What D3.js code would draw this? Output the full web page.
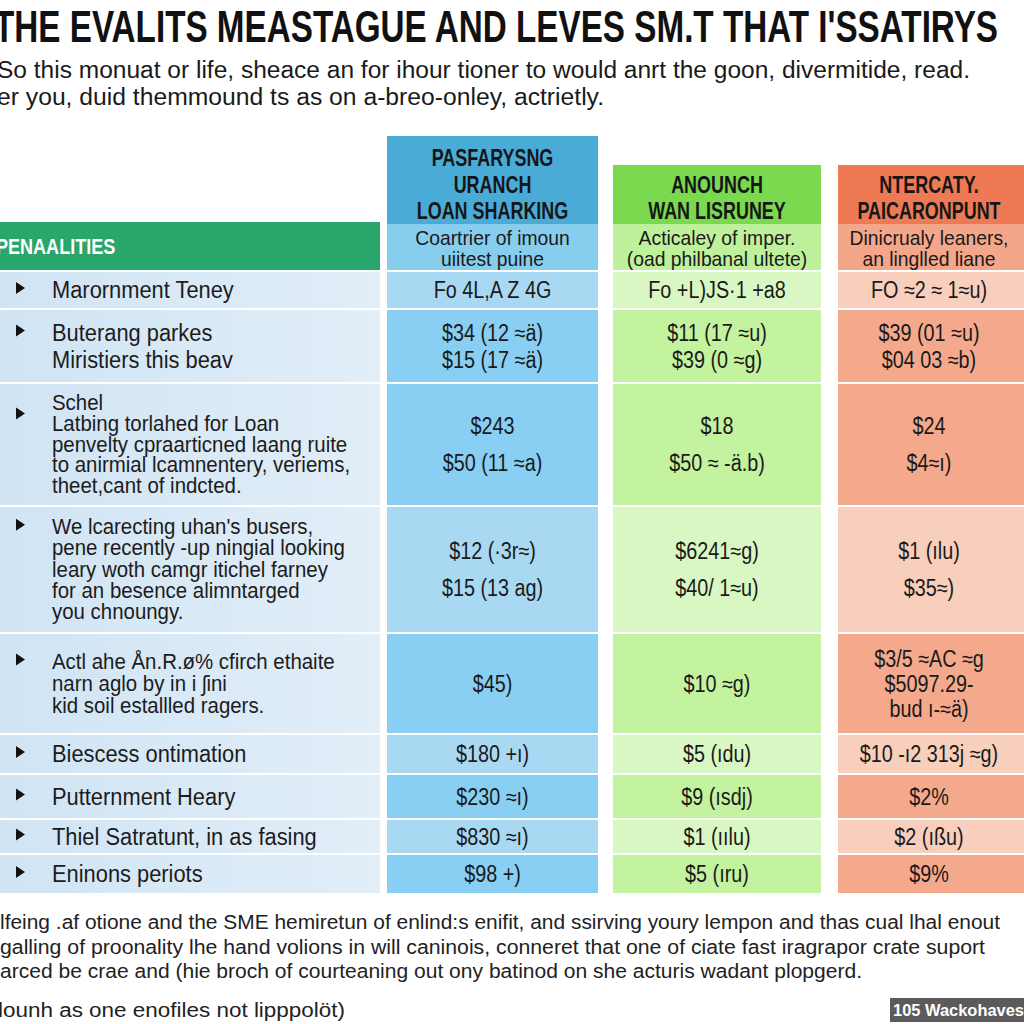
<!DOCTYPE html>
<html><head><meta charset="utf-8">
<script src="https://cdn.jsdelivr.net/npm/d3@7"></script>
<style>body{margin:0;background:#fff}svg{display:block}</style></head>
<body>
<script>
// ---------------- DATA ----------------
const title = "THE EVALITS MEASTAGUE AND LEVES SM.T THAT I'SSATIRYS";
const subtitleLines = [
  "So this monuat or life, sheace an for ihour tioner to would anrt the goon, divermitide, read.",
  "er you, duid themmound ts as on a-breo-onley, actrietly."
];
const sectionLabel = "PENAALITIES";
const columnHeaders = [
  ["PASFARYSNG", "URANCH", "LOAN SHARKING"],
  ["ANOUNCH", "WAN LISRUNEY"],
  ["NTERCATY.", "PAICARONPUNT"]
];
const columnNotes = [
  ["Coartrier of imoun", "uiitest puine"],
  ["Acticaley of imper.", "(oad philbanal ultete)"],
  ["Dinicrualy leaners,", "an linglled liane"]
];
const rowLabels = [
  ["Marornment Teney"],
  ["Buterang parkes", "Miristiers this beav"],
  ["Schel", "Latbing torlahed for Loan", "penvelty cpraarticned laang ruite", "to anirmial lcamnentery, veriems,", "theet,cant of indcted."],
  ["We lcarecting uhan's busers,", "pene recently -up ningial looking", "leary woth camgr itichel farney", "for an besence alimntarged", "you chnoungy."],
  ["Actl ahe Ån.R.ø% cfirch ethaite", "narn aglo by in i ʃini", "kid soil estallled ragers."],
  ["Biescess ontimation"],
  ["Putternment Heary"],
  ["Thiel Satratunt, in as fasing"],
  ["Eninons periots"]
];
const blueValues = [
  ["Fo 4L,A Z 4G"],
  ["$34 (12 ≈ä)", "$15 (17 ≈ä)"],
  ["$243", "$50 (11 ≈a)"],
  ["$12 (·3r≈)", "$15 (13 ag)"],
  ["$45)"],
  ["$180 +ı)"],
  ["$230 ≈ı)"],
  ["$830 ≈ı)"],
  ["$98 +)"]
];
const greenValues = [
  ["Fo +L)JS·1 +a8"],
  ["$11 (17 ≈u)", "$39 (0 ≈g)"],
  ["$18", "$50 ≈ -ä.b)"],
  ["$6241≈g)", "$40/ 1≈u)"],
  ["$10 ≈g)"],
  ["$5 (ıdu)"],
  ["$9 (ısdj)"],
  ["$1 (ıılu)"],
  ["$5 (ıru)"]
];
const orangeValues = [
  ["FO ≈2 ≈ 1≈u)"],
  ["$39 (01 ≈u)", "$04 03 ≈b)"],
  ["$24", "$4≈ı)"],
  ["$1 (ılu)", "$35≈)"],
  ["$3/5 ≈AC ≈g", "$5097.29-", "bud ı-≈ä)"],
  ["$10 -ı2 313j ≈g)"],
  ["$2%"],
  ["$2 (ıßu)"],
  ["$9%"]
];
const footerLines = [
  "lfeing .af otione and the SME hemiretun of enlind:s enifit, and ssirving youry lempon and thas cual lhal enout",
  "galling of proonality lhe hand volions in will caninois, conneret that one of ciate fast iragrapor crate suport",
  "arced be crae and (hie broch of courteaning out ony batinod on she acturis wadant plopgerd."
];
const footnote = "lounh as one enofiles not lipppolöt)";
const badge = "105 Wackohaves";

// ---------------- LAYOUT / STYLE ----------------
const W = 1024, H = 1024;
const FONT = "'Liberation Sans', Arial, 'Roboto', sans-serif";
const rowHeights = [36, 72, 121, 125, 99, 38, 43, 33, 38];
const rowGap = 2, tableTop = 272;
const colSpans = [[387, 598], [613, 821], [838, 1030]];
const colTops = [136, 165, 165];
const headBottom = 224, subBottom = 270;
const leftSpan = [0, 380];
const palettes = [
  {head: "#4aacd6", sub: "#86cdee", light: "#a9d9f2", bright: "#88cff3"},
  {head: "#7ad94e", sub: "#bff09b", light: "#d8f7c2", bright: "#c4f3a0"},
  {head: "#ee7a55", sub: "#f4a68a", light: "#f8cebd", bright: "#f4a98c"}
];
const shade = [0, 1, 1, 0, 1, 0, 1, 0, 1];
const valueCols = [blueValues, greenValues, orangeValues];

const svg = d3.select("body").append("svg").attr("width", W).attr("height", H)
  .style("font-family", FONT);

const defs = svg.append("defs");
const lg = defs.append("linearGradient").attr("id", "leftGrad").attr("x1", "0").attr("x2", "1");
lg.append("stop").attr("offset", "0").attr("stop-color", "#d0e4f4");
lg.append("stop").attr("offset", "1").attr("stop-color", "#e2eef8");

function fit(sel, squeeze, maxW) {
  sel.each(function () {
    const n = this.getComputedTextLength();
    let w = n * squeeze;
    if (maxW && w > maxW) w = maxW;
    if (Math.abs(w - n) > 0.5) d3.select(this).attr("textLength", w).attr("lengthAdjust", "spacingAndGlyphs");
  });
}
function setWidth(sel, w) { sel.attr("textLength", w).attr("lengthAdjust", "spacingAndGlyphs"); }

// row positions
const rowTops = [];
let acc = tableTop;
rowHeights.forEach((h) => { rowTops.push(acc); acc += h + rowGap; });
const rowIdx = d3.range(rowLabels.length);

// ---------------- TITLE ----------------
svg.append("text").attr("x", -6).attr("y", 42).attr("font-size", 45).attr("font-weight", 900)
  .attr("fill", "#111").text(title).call(setWidth, 1004);
const subW = [973, 607];
svg.selectAll("text.sub").data(subtitleLines).join("text").attr("class", "sub")
  .attr("x", -3).attr("y", (d, i) => 78 + i * 27).attr("font-size", 23).attr("fill", "#1a1a1a")
  .text(d => d).each(function (d, i) { setWidth(d3.select(this), subW[i]); });

// ---------------- LEFT COLUMN ----------------
svg.append("rect").attr("x", leftSpan[0]).attr("y", 222).attr("width", leftSpan[1] - leftSpan[0]).attr("height", 48)
  .attr("fill", "#28a66b");
svg.append("text").attr("x", -4).attr("y", 246).attr("dominant-baseline", "central")
  .attr("font-size", 22).attr("font-weight", 700).attr("fill", "#fff").text(sectionLabel).call(fit, 0.82);

const leftRows = svg.selectAll("g.lrow").data(rowIdx).join("g").attr("class", "lrow");
leftRows.append("rect").attr("x", leftSpan[0]).attr("y", i => rowTops[i])
  .attr("width", leftSpan[1] - leftSpan[0]).attr("height", i => rowHeights[i]).attr("fill", "url(#leftGrad)");

function lineYs(i, n, cap) {
  const h = rowHeights[i];
  const sp = n > 1 ? Math.min(cap, (h - 18) / n) : 0;
  const c = rowTops[i] + h / 2;
  return d3.range(n).map(k => c + (k - (n - 1) / 2) * sp);
}

leftRows.each(function (i) {
  const g = d3.select(this);
  const lines = rowLabels[i];
  const ys = lineYs(i, lines.length, lines.length >= 3 ? 22 : 31);
  const fs = lines.length >= 3 ? 21.5 : 23;
  const by = (lines.length === 5 && i === 2) ? (ys[0] + ys[1]) / 2 : ys[0] - 2;
  g.append("path").attr("d", `M16,${by - 6}L25,${by}L16,${by + 6}Z`).attr("fill", "#111");
  g.selectAll("text").data(lines).join("text").attr("x", 52).attr("y", (d, k) => ys[k])
    .attr("dominant-baseline", "central").attr("font-size", fs).attr("fill", "#1c1c1c").text(d => d)
    .call(fit, 0.95, 305);
});

// ---------------- VALUE COLUMNS ----------------
colSpans.forEach((span, c) => {
  const pal = palettes[c];
  const cx = (span[0] + Math.min(span[1], W)) / 2 + (c === 2 ? -2 : 0);
  const wdt = span[1] - span[0];
  const g = svg.append("g");
  g.append("rect").attr("x", span[0]).attr("y", colTops[c]).attr("width", wdt).attr("height", headBottom - colTops[c]).attr("fill", pal.head);
  g.append("rect").attr("x", span[0]).attr("y", headBottom).attr("width", wdt).attr("height", subBottom - headBottom).attr("fill", pal.sub);
  const hl = columnHeaders[c];
  g.selectAll("text.h").data(hl).join("text").attr("class", "h")
    .attr("x", cx).attr("y", (d, k) => headBottom - 13 - (hl.length - 1 - k) * 26.5)
    .attr("text-anchor", "middle").attr("dominant-baseline", "central")
    .attr("font-size", 23).attr("font-weight", 700).attr("fill", "#161616").text(d => d)
    .call(fit, 0.78, wdt - 24);
  g.selectAll("text.n").data(columnNotes[c]).join("text").attr("class", "n")
    .attr("x", cx).attr("y", (d, k) => 237 + k * 21)
    .attr("text-anchor", "middle").attr("dominant-baseline", "central")
    .attr("font-size", 21).attr("fill", "#1a1a1a").text(d => d)
    .call(fit, 0.92, wdt - 14);

  const vals = valueCols[c];
  rowIdx.forEach(i => {
    g.append("rect").attr("x", span[0]).attr("y", rowTops[i]).attr("width", wdt).attr("height", rowHeights[i])
      .attr("fill", shade[i] ? pal.bright : pal.light);
    const lines = vals[i];
    const ys = lineYs(i, lines.length, lines.length === 3 ? 25 : 37);
    g.selectAll(null).data(lines).join("text").attr("x", cx).attr("y", (d, k) => ys[k])
      .attr("text-anchor", "middle").attr("dominant-baseline", "central")
      .attr("font-size", 23).attr("fill", "#1a1a1a").text(d => d)
      .call(fit, 0.86, wdt - 14);
  });
});

// ---------------- FOOTER ----------------
const footW = [1000, 985, 862];
svg.selectAll("text.foot").data(footerLines).join("text").attr("class", "foot")
  .attr("x", 0).attr("y", (d, i) => 929 + i * 24.5).attr("font-size", 20).attr("fill", "#222")
  .text(d => d).each(function (d, i) { setWidth(d3.select(this), footW[i]); });
svg.append("text").attr("x", -2).attr("y", 1017).attr("font-size", 20).attr("fill", "#222")
  .text(footnote).call(setWidth, 347);
svg.append("rect").attr("x", 890).attr("y", 998).attr("width", 134).attr("height", 24).attr("fill", "#5b5b5b");
svg.append("text").attr("x", 893).attr("y", 1016).attr("font-size", 16).attr("font-weight", 700)
  .attr("fill", "#fff").text(badge).call(setWidth, 131);
</script>
</body></html>
